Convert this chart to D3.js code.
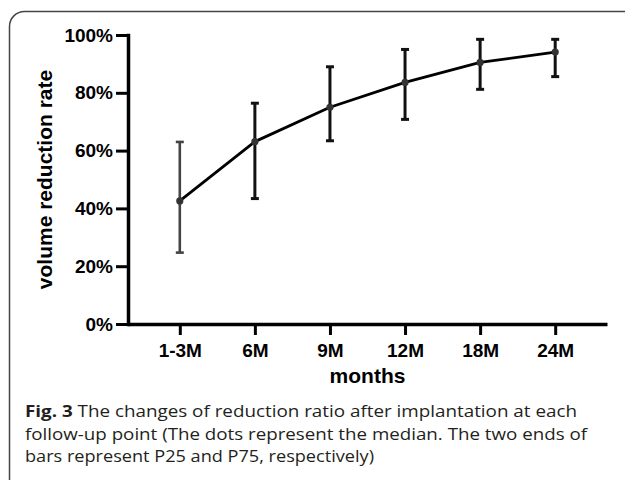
<!DOCTYPE html>
<html>
<head>
<meta charset="utf-8">
<script src="https://cdn.jsdelivr.net/npm/d3@7"></script>
<style>
  html, body { margin: 0; padding: 0; background: #fff; }
  svg { display: block; }
</style>
</head>
<body>
<script>
// ---- data ----
const categories = ["1-3M", "6M", "9M", "12M", "18M", "24M"];
const medians = [42.6, 63.1, 75.0, 83.6, 90.5, 94.1];
const p25 = [24.7, 43.4, 63.4, 70.8, 81.2, 85.6];
const p75 = [63.0, 76.4, 89.0, 95.0, 98.5, 98.5];
const yTicks = [0, 20, 40, 60, 80, 100];
const yTitle = "volume reduction rate";
const xTitle = "months";
const captionBold = "Fig. 3";
const captionLines = [
  " The changes of reduction ratio after implantation at each",
  "follow-up point (The dots represent the median. The two ends of",
  "bars represent P25 and P75, respectively)"
];

const W = 625, H = 480;
const svg = d3.select("body").append("svg").attr("width", W).attr("height", H);

// frame
svg.append("rect")
  .attr("x", 9.5).attr("y", 11.5)
  .attr("width", 660).attr("height", 500)
  .attr("rx", 15).attr("ry", 15)
  .attr("fill", "none").attr("stroke", "#444").attr("stroke-width", 1.5);

const x = d3.scalePoint().domain(categories).range([128, 607]).padding(0.69);
const y = d3.scaleLinear().domain([0, 100]).range([324, 35]);

const axisFont = "'Liberation Sans', Arial, sans-serif";

// y axis
const gy = svg.append("g").attr("transform", "translate(128,0)")
  .call(d3.axisLeft(y).tickValues(yTicks).tickFormat(d => d + "%")
    .tickSize(12).tickSizeOuter(0).tickPadding(3));
gy.select(".domain").attr("stroke", "#000").attr("stroke-width", 3.5).attr("stroke-linecap", "square");
gy.selectAll(".tick line").attr("stroke", "#000").attr("stroke-width", 3);
gy.selectAll(".tick text").attr("font-family", axisFont).attr("font-weight", "bold")
  .attr("font-size", 19).attr("fill", "#000");

// x axis
const gx = svg.append("g").attr("transform", "translate(0,324)")
  .call(d3.axisBottom(x).tickSize(11).tickSizeOuter(0).tickPadding(8.5));
gx.select(".domain").attr("stroke", "#000").attr("stroke-width", 3.5);
gx.selectAll(".tick line").attr("stroke", "#000").attr("stroke-width", 3);
gx.selectAll(".tick text").attr("font-family", axisFont).attr("font-weight", "bold")
  .attr("font-size", 19).attr("fill", "#000");

// axis titles
svg.append("text")
  .attr("transform", `translate(52,${(y(0) + y(100)) / 2}) rotate(-90)`)
  .attr("text-anchor", "middle")
  .attr("font-family", axisFont).attr("font-weight", "bold").attr("font-size", 21)
  .attr("fill", "#000").text(yTitle);

svg.append("text")
  .attr("x", 367.5).attr("y", 383)
  .attr("text-anchor", "middle")
  .attr("font-family", axisFont).attr("font-weight", "bold").attr("font-size", 21)
  .attr("fill", "#000").text(xTitle);

// data
const rows = categories.map((c, i) => ({ c, m: medians[i], lo: p25[i], hi: p75[i], i }));

const bars = svg.append("g");
rows.forEach(r => {
  const col = r.i === 0 ? "#444" : "#111";
  const sw = r.i === 0 ? 2.6 : 3;
  const cx = x(r.c);
  bars.append("line").attr("x1", cx).attr("x2", cx).attr("y1", y(r.lo)).attr("y2", y(r.hi))
    .attr("stroke", col).attr("stroke-width", sw);
  [r.lo, r.hi].forEach(v => {
    bars.append("line").attr("x1", cx - 4).attr("x2", cx + 4).attr("y1", y(v)).attr("y2", y(v))
      .attr("stroke", col).attr("stroke-width", sw);
  });
});

svg.append("path")
  .datum(rows)
  .attr("fill", "none").attr("stroke", "#000").attr("stroke-width", 2.8)
  .attr("stroke-linejoin", "round")
  .attr("d", d3.line().x(d => x(d.c)).y(d => y(d.m)));

svg.append("g").selectAll("circle").data(rows).join("circle")
  .attr("cx", d => x(d.c)).attr("cy", d => y(d.m)).attr("r", 3.6)
  .attr("fill", "#333");

// caption
const capFont = "'Open Sans', 'Noto Sans', sans-serif";
const capW = [552, 562, 349];
const capY = [416.7, 439.5, 462.3];
captionLines.forEach((line, i) => {
  const t = svg.append("text")
    .attr("x", 25).attr("y", capY[i])
    .attr("font-family", capFont).attr("font-size", 16.5).attr("fill", "#231f20")
    .attr("textLength", capW[i]).attr("lengthAdjust", "spacingAndGlyphs");
  if (i === 0) {
    t.append("tspan").attr("font-weight", "bold").text(captionBold);
  }
  t.append("tspan").text(line);
});
</script>
</body>
</html>
